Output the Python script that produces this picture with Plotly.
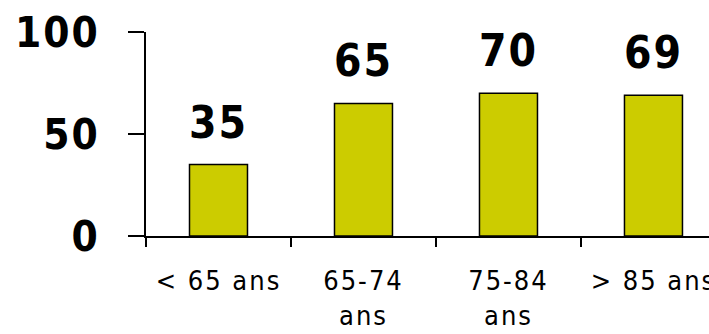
import plotly.graph_objects as go

# Age groups and their values
categories = ["< 65 ans", "65-74<br>ans", "75-84<br>ans", "> 85 ans"]
values = [35, 65, 70, 69]
y_ticks = [0, 50, 100]

BAR_COLOR = "#CCCC00"
FONT = "DejaVu Sans Condensed, DejaVu Sans"

fig = go.Figure()
fig.add_trace(go.Bar(
    x=categories,
    y=values,
    width=0.4,
    marker=dict(color=BAR_COLOR, line=dict(color="black", width=1.5)),
    hoverinfo="skip",
))

# Value labels above each bar
for cat, val in zip(categories, values):
    fig.add_annotation(
        x=cat, y=val, text=f"<b>{val}</b>", showarrow=False,
        yanchor="bottom", yshift=15,
        font=dict(family=FONT, size=44, color="black"),
    )

fig.update_layout(
    width=709, height=334,
    margin=dict(l=146, r=0, t=32, b=98, autoexpand=False),
    plot_bgcolor="white", paper_bgcolor="white",
    showlegend=False,
    font=dict(family=FONT, color="black"),
)
fig.update_xaxes(
    type="category",
    range=[-0.5, 3.383],
    automargin=False,
    showline=True, linecolor="black", linewidth=1.5,
    ticks="outside", ticklen=9, tickwidth=1.5, tickcolor="black",
    tickson="boundaries",
    tickfont=dict(family=FONT, size=27, color="black"),
    ticklabelstandoff=20,
    showgrid=False,
)
fig.update_yaxes(
    range=[0, 100],
    tickvals=y_ticks,
    ticktext=[f"<b>{t}</b>" for t in y_ticks],
    automargin=False,
    showline=True, linecolor="black", linewidth=1.5,
    ticks="outside", ticklen=16, tickwidth=1.5, tickcolor="black",
    tickfont=dict(family=FONT, size=42, color="black"),
    ticklabelstandoff=20,
    showgrid=False, zeroline=False,
)

spacing_js = """
document.querySelectorAll('.xtick text').forEach(function(e){
  e.setAttribute('letter-spacing', '2px');
});
document.querySelectorAll('.ytick text').forEach(function(e){
  e.setAttribute('letter-spacing', '2px');
});
document.querySelectorAll('.annotation-text').forEach(function(e){
  e.setAttribute('letter-spacing', '2px');
});
"""
fig.write_html("out.html", post_script=spacing_js)
